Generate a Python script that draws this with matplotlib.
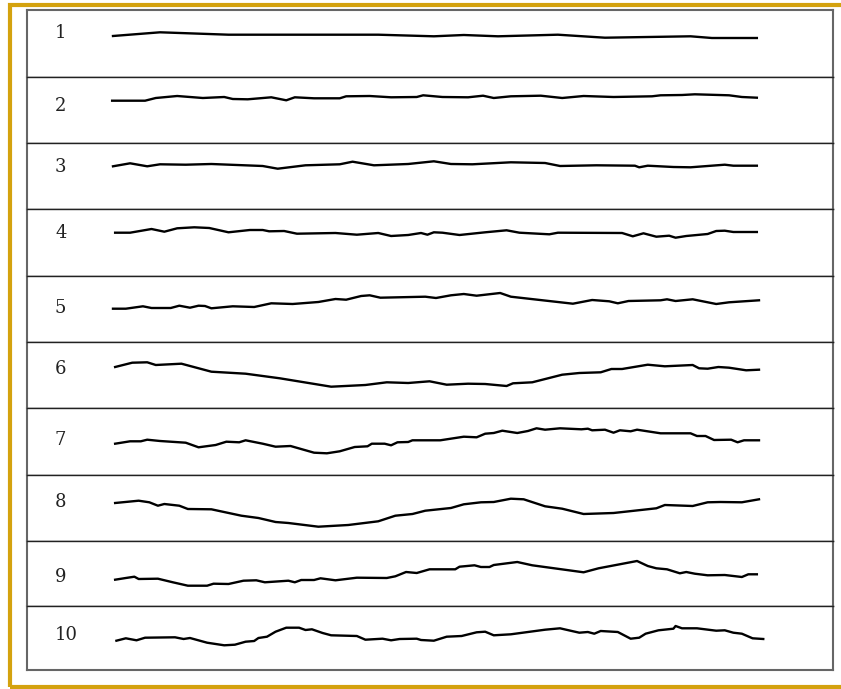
import matplotlib
matplotlib.use("Agg")
import matplotlib.pyplot as plt
from matplotlib.patches import Rectangle

# traces: t = time step, h = level within each row
t1 = [30, 140, 300, 650, 780, 850, 930, 1070, 1180, 1380, 1430, 1535]
h1 = [41, 44.7, 42.3, 42.3, 40.7, 42, 40.7, 42.3, 39.3, 40.7, 39, 39]

t2 = [28, 105, 130, 180, 240, 290, 310, 345, 400, 435, 455, 500, 560, 575, 630, 680, 740,
      755, 800, 860, 895, 920, 960, 1030, 1080, 1130, 1200, 1290, 1310, 1360, 1390, 1470, 1500, 1535]
h2 = [42.3, 42.3, 45, 47, 45, 46, 44, 43.7, 45.7, 42.7, 45.7, 44.7, 44.7, 46.7, 47, 45.7, 46,
      47.7, 46, 45.7, 47.3, 45, 46.7, 47.3, 45, 47, 46, 46.7, 47.7, 48, 48.7, 47.7, 46, 45.3]

t3 = [30, 70, 110, 140, 200, 260, 380, 415, 480, 560, 590, 640, 720, 780, 820, 870, 960, 1040,
      1075, 1160, 1250, 1260, 1280, 1340, 1380, 1460, 1480, 1535]
h3 = [42.7, 45.7, 42.7, 44.7, 44.3, 45, 43, 40.3, 43.7, 44.7, 47.3, 43.7, 45, 47.7, 45, 44.7, 46.7, 46,
      43, 43.7, 43.3, 41.7, 43.3, 42, 41.7, 44.3, 43.3, 43.3]

t4 = [35, 70, 120, 150, 180, 220, 255, 300, 350, 380, 395, 430, 460, 550, 600, 650, 680, 720, 750, 765,
      780, 800, 840, 900, 950, 980, 1050, 1070, 1220, 1245, 1270, 1300, 1330, 1345, 1370, 1420, 1440,
      1460, 1480, 1535]
h4 = [43.3, 43.3, 47, 44.3, 47.7, 48.7, 48, 43.7, 46, 46, 44.7, 45, 42.3, 43, 41.3, 43, 40, 41, 43, 41.3,
      43.7, 43.3, 41, 43.7, 45.7, 43.3, 41.7, 43.3, 43, 39.7, 42.7, 39.3, 40.3, 38.3, 40, 42, 45,
      45.3, 44, 44]

t5 = [30, 60, 100, 120, 165, 185, 210, 230, 245, 260, 310, 360, 400, 450, 510, 550, 575, 610, 630, 655,
      760, 785, 820, 850, 880, 935, 960, 1105, 1150, 1190, 1210, 1235, 1310, 1325, 1345, 1385, 1440,
      1470, 1540]
h5 = [33.3, 33.3, 35.7, 34, 34, 36.3, 34.3, 36.3, 36, 33.7, 35.7, 35, 38.7, 38, 40, 43, 42.3, 46, 46.7, 44.3,
      45.3, 44, 46.7, 48, 46.3, 49, 45.3, 38.3, 42, 40.7, 38.7, 41, 41.7, 42.7, 41, 42.7, 38,
      39.7, 41.7]

t6 = [35, 75, 110, 130, 190, 260, 340, 420, 540, 620, 670, 720, 770, 810, 860, 900, 950, 965, 1010,
      1080, 1120, 1170, 1195, 1220, 1280, 1320, 1385, 1400, 1420, 1445, 1470, 1510, 1540]
h6 = [41, 45.3, 45.7, 43, 44.3, 36.3, 34.3, 29.7, 21.3, 23, 25.7, 25, 26.7, 23.3, 24.3, 24, 22, 24.7, 25.7,
      33.3, 35, 35.7, 39, 39, 43.3, 41.7, 43, 39.7, 39.3, 41, 40.3, 37.7, 38.3]

t7 = [35, 70, 95, 110, 140, 200, 230, 270, 295, 325, 340, 380, 410, 445, 500, 530, 560, 595, 625, 635,
      665, 680, 695, 720, 730, 795, 850, 880, 900, 920, 940, 975, 1000, 1020, 1040, 1075, 1125, 1140,
      1150, 1180, 1200, 1215, 1240, 1255, 1310, 1380, 1395, 1415, 1435, 1475, 1490, 1505, 1540]
h7 = [31.3, 33.7, 33.7, 35.3, 34, 32.3, 27.7, 30, 33.3, 32.7, 34.7, 31.3, 28.3, 29, 22.3, 21.7, 23.7, 28, 28.7, 31.3,
      31.3, 29.7, 32.7, 33, 34.7, 34.7, 38.3, 37.7, 41.3, 42, 44.3, 42, 44, 46.7, 45.3, 46.7, 45.7, 46.3,
      44.7, 45.3, 42.3, 44.7, 43.7, 45.3, 41.7, 41.7, 39, 39, 35, 35.3, 32.7, 34.7, 34.7]

t8 = [35, 90, 115, 135, 150, 185, 205, 260, 330, 370, 410, 440, 510, 580, 650, 690, 730, 760, 820, 850,
      890, 920, 960, 990, 1040, 1080, 1130, 1200, 1300, 1320, 1385, 1420, 1450, 1500, 1540]
h8 = [38, 40.3, 38.7, 35.3, 37, 35.3, 32, 31.7, 25.3, 23, 19, 18, 14.3, 16, 19.7, 25.3, 27, 30.3, 33, 36.7,
      38.7, 39, 42.3, 41.7, 34.7, 32.3, 27, 28, 32.7, 36, 35, 38.7, 39, 38.7, 41.7]

t9 = [35, 60, 80, 90, 135, 170, 205, 250, 265, 300, 335, 365, 385, 440, 455, 470, 500, 515, 550, 600,
      670, 690, 715, 740, 770, 830, 840, 875, 890, 910, 920, 975, 1010, 1130, 1165, 1255, 1280, 1300,
      1325, 1355, 1370, 1390, 1420, 1460, 1500, 1515, 1535]
h9 = [26.3, 28, 29.3, 27, 27.3, 23.7, 20.3, 20.3, 22.3, 22, 25.3, 25.7, 23.7, 25.3, 23.7, 26, 26, 27.7, 25.7, 28.3,
      28, 29.7, 34, 33, 36.7, 36.7, 39.3, 40.7, 39, 39, 41, 44, 40.7, 33.7, 37.7, 45, 40, 37.7,
      36.7, 32.7, 34, 32.3, 30.7, 31, 29, 31.7, 31.7]

t10 = [38, 60, 85, 105, 175, 195, 210, 250, 290, 315, 340, 360, 370, 390, 410, 435, 465, 480, 495, 520,
       540, 600, 620, 660, 680, 700, 740, 750, 780, 810, 845, 880, 900, 920, 960, 1040, 1075, 1085,
       1120, 1140, 1155, 1170, 1210, 1240, 1260, 1275, 1305, 1340, 1345, 1360, 1395, 1440, 1460, 1480,
       1500, 1525, 1550]
h10 = [29.3, 31.7, 29.7, 32.3, 32.7, 31, 32, 27.3, 24.7, 25.3, 28.3, 29, 32, 33.3, 38.3, 42.3, 42.3, 40, 40.7, 37,
       34.7, 34, 30.3, 31.3, 29.7, 31, 31.3, 30, 29.3, 33.3, 34, 37.7, 38.3, 34.7, 35.7, 40.3, 41.7, 40.7,
       37.3, 38, 36.3, 39, 38, 31.3, 32.3, 36.3, 39.7, 41.3, 44, 41.7, 41.7, 39.3, 39.7, 37.3,
       36.3, 31.7, 31]

labels = ["1", "2", "3", "4", "5", "6", "7", "8", "9", "10"]
times = [t1, t2, t3, t4, t5, t6, t7, t8, t9, t10]
levels = [h1, h2, h3, h4, h5, h6, h7, h8, h9, h10]

# layout (pixels of the 841x689 canvas)
W, H = 841, 689
row_edges = [10, 77, 143, 209, 276, 342, 408, 475, 541, 606, 670]
row_heights = [b - a for a, b in zip(row_edges[:-1], row_edges[1:])]
label_y = [44, 37, 42, 43, 34, 39, 35, 39, 29, 35]

fig = plt.figure(figsize=(W / 100, H / 100), dpi=100)
gs = fig.add_gridspec(10, 1, left=27 / W, right=833 / W, top=1 - 10 / H, bottom=1 - 670 / H,
                      hspace=0, height_ratios=row_heights)

for i in range(10):
    ax = fig.add_subplot(gs[i])
    ax.plot(times[i], levels[i], color="black", lw=1.7, solid_joinstyle="round")
    ax.set_xlim(-171, 1713)
    ax.set_ylim(0, row_heights[i])
    ax.set_xticks([])
    ax.set_yticks([])
    for side in ["left", "right"]:
        ax.spines[side].set_color("#666666")
        ax.spines[side].set_linewidth(1.5)
    ax.spines["top"].set_color("#222222" if i > 0 else "#666666")
    ax.spines["bottom"].set_color("#222222" if i < 9 else "#666666")
    ax.spines["top"].set_linewidth(1.0 if i > 0 else 1.5)
    ax.spines["bottom"].set_linewidth(1.0 if i < 9 else 1.5)
    ax.text((55 - 27) / 806, label_y[i], labels[i], transform=ax.get_yaxis_transform(),
            ha="left", va="center", fontsize=13, family="DejaVu Serif", color="#222222")

# gold frame around the figure
frame = Rectangle((10 / W, 1 - 687 / H), 860 / W, 682 / H, transform=fig.transFigure,
                  fill=False, edgecolor="#d4a20e", lw=3, clip_on=False)
fig.patches.append(frame)

fig.savefig("out.png", dpi=100)
